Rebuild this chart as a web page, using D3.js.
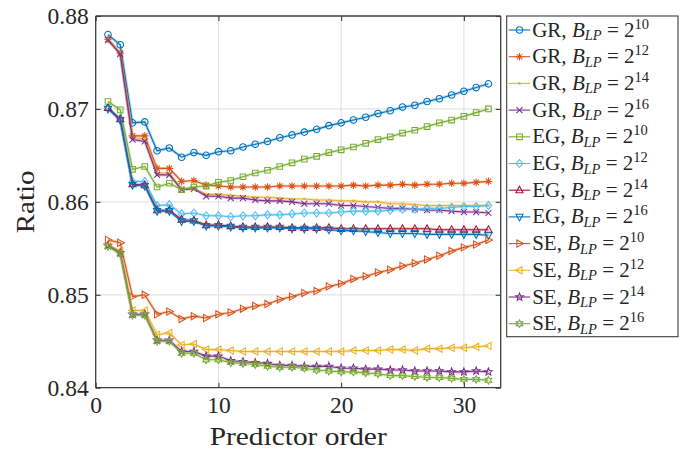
<!DOCTYPE html>
<html>
<head>
<meta charset="utf-8">
<script src="https://cdn.jsdelivr.net/npm/d3@7"></script>
<style>
  html, body { margin: 0; padding: 0; background: #fff; }
</style>
</head>
<body>
<svg id="chart" width="697" height="452"></svg>
<script>
// Predictor orders on the x axis
const order = [1,2,3,4,5,6,7,8,9,10,11,12,13,14,15,16,17,18,19,20,21,22,23,24,25,26,27,28,29,30,31,32];

// Ratio per predictor order, one array per method / block size
const gr10 = [0.8780,0.8769,0.8685,0.8686,0.8655,0.8658,0.8648,0.8653,0.8650,0.8654,0.8655,0.8659,0.8662,0.8665,0.8669,0.8672,0.8675,0.8678,0.8682,0.8685,0.8688,0.8691,0.8695,0.8698,0.8702,0.8704,0.8708,0.8711,0.8715,0.8719,0.8723,0.8727];
const gr12 = [0.8775,0.8760,0.8671,0.8671,0.8636,0.8636,0.8622,0.8623,0.8618,0.8617,0.8616,0.8616,0.8616,0.8616,0.8617,0.8617,0.8617,0.8617,0.8617,0.8617,0.8618,0.8617,0.8618,0.8618,0.8619,0.8618,0.8619,0.8619,0.8620,0.8620,0.8621,0.8622];
const gr14 = [0.8775,0.8760,0.8669,0.8668,0.8631,0.8631,0.8614,0.8615,0.8608,0.8608,0.8607,0.8606,0.8605,0.8605,0.8604,0.8603,0.8603,0.8602,0.8602,0.8601,0.8601,0.8600,0.8600,0.8598,0.8598,0.8597,0.8596,0.8596,0.8596,0.8596,0.8596,0.8596];
const gr16 = [0.8774,0.8759,0.8667,0.8665,0.8629,0.8629,0.8613,0.8614,0.8606,0.8606,0.8604,0.8604,0.8602,0.8601,0.8601,0.8600,0.8598,0.8598,0.8598,0.8596,0.8596,0.8595,0.8594,0.8593,0.8593,0.8592,0.8591,0.8591,0.8590,0.8589,0.8589,0.8588];
const eg10 = [0.8708,0.8699,0.8635,0.8638,0.8616,0.8620,0.8613,0.8616,0.8617,0.8621,0.8623,0.8627,0.8631,0.8634,0.8638,0.8642,0.8646,0.8649,0.8653,0.8656,0.8659,0.8663,0.8667,0.8670,0.8674,0.8677,0.8681,0.8685,0.8688,0.8692,0.8696,0.8700];
const eg12 = [0.8701,0.8689,0.8622,0.8622,0.8596,0.8597,0.8587,0.8588,0.8585,0.8585,0.8584,0.8585,0.8585,0.8586,0.8586,0.8587,0.8588,0.8588,0.8588,0.8589,0.8590,0.8590,0.8590,0.8591,0.8592,0.8592,0.8593,0.8593,0.8594,0.8595,0.8595,0.8596];
const eg14 = [0.8701,0.8689,0.8619,0.8618,0.8591,0.8591,0.8581,0.8580,0.8575,0.8575,0.8574,0.8573,0.8573,0.8573,0.8573,0.8572,0.8572,0.8572,0.8572,0.8571,0.8571,0.8571,0.8571,0.8571,0.8571,0.8571,0.8571,0.8570,0.8570,0.8570,0.8570,0.8570];
const eg16 = [0.8700,0.8688,0.8618,0.8617,0.8590,0.8590,0.8579,0.8579,0.8574,0.8574,0.8573,0.8572,0.8572,0.8572,0.8572,0.8571,0.8571,0.8571,0.8570,0.8569,0.8569,0.8568,0.8567,0.8566,0.8566,0.8566,0.8565,0.8565,0.8565,0.8565,0.8565,0.8564];
const se10 = [0.8559,0.8556,0.8498,0.8500,0.8479,0.8482,0.8474,0.8477,0.8475,0.8479,0.8481,0.8485,0.8488,0.8490,0.8495,0.8498,0.8502,0.8504,0.8509,0.8512,0.8517,0.8520,0.8524,0.8527,0.8531,0.8534,0.8538,0.8542,0.8547,0.8551,0.8554,0.8559];
const se12 = [0.8554,0.8547,0.8483,0.8483,0.8457,0.8459,0.8446,0.8447,0.8441,0.8441,0.8440,0.8439,0.8439,0.8439,0.8439,0.8439,0.8439,0.8439,0.8439,0.8439,0.8440,0.8440,0.8440,0.8441,0.8441,0.8440,0.8442,0.8442,0.8443,0.8443,0.8444,0.8445];
const se14 = [0.8553,0.8545,0.8479,0.8479,0.8451,0.8451,0.8439,0.8439,0.8434,0.8434,0.8429,0.8428,0.8427,0.8426,0.8424,0.8424,0.8423,0.8423,0.8423,0.8421,0.8421,0.8420,0.8420,0.8419,0.8419,0.8418,0.8418,0.8418,0.8417,0.8417,0.8418,0.8417];
const se16 = [0.8552,0.8544,0.8478,0.8478,0.8450,0.8450,0.8437,0.8437,0.8430,0.8430,0.8427,0.8426,0.8425,0.8423,0.8422,0.8422,0.8421,0.8419,0.8418,0.8417,0.8417,0.8416,0.8415,0.8413,0.8413,0.8412,0.8411,0.8411,0.8410,0.8409,0.8409,0.8408];

// Legend entries: method, exponent of B_LP
const methods   = ["GR","GR","GR","GR","EG","EG","EG","EG","SE","SE","SE","SE"];
const exponents = ["10","12","14","16","10","12","14","16","10","12","14","16"];
const seriesValues = [gr10, gr12, gr14, gr16, eg10, eg12, eg14, eg16, se10, se12, se14, se16];

// Axis ticks
const xTicks = [0, 10, 20, 30];
const yTicks = [0.84, 0.85, 0.86, 0.87, 0.88];

// Styling per series
const colors  = ["#0072BD","#D95319","#EDB120","#7E2F8E","#77AC30","#4DBEEE","#A2142F","#0072BD","#D95319","#EDB120","#7E2F8E","#77AC30"];
const markers = ["o","*",".","x","s","d","^","v",">","<","p","h"];

const FONT = "'Liberation Serif', 'Times New Roman', serif";
const TEXT_COLOR = "#262626";

const svg = d3.select("#chart");
const plot = { left: 95.7, right: 500.7, top: 16, bottom: 387.7 };

const x = d3.scaleLinear().domain([0, 33]).range([plot.left, plot.right]);
const y = d3.scaleLinear().domain([0.84, 0.88]).range([plot.bottom, plot.top]);

const axisColor = "#3d3d3d";

// grid
const grid = svg.append("g");
grid.selectAll("line.gx").data(xTicks.filter(t => t > 0)).enter().append("line")
  .attr("x1", d => x(d)).attr("x2", d => x(d))
  .attr("y1", plot.top).attr("y2", plot.bottom)
  .attr("stroke", "#e4e4e4").attr("stroke-width", 1.2);
grid.selectAll("line.gy").data(yTicks.filter(t => t > 0.84 && t < 0.88)).enter().append("line")
  .attr("x1", plot.left).attr("x2", plot.right)
  .attr("y1", d => y(d)).attr("y2", d => y(d))
  .attr("stroke", "#e4e4e4").attr("stroke-width", 1.2);

// marker shape paths, centred on 0,0
function markerPath(m) {
  const p = d3.path();
  switch (m) {
    case "o": p.arc(0, 0, 3.3, 0, 2 * Math.PI); break;
    case "*": {
      const a = 3.8, b = 2.7;
      p.moveTo(-a, 0); p.lineTo(a, 0);
      p.moveTo(0, -a); p.lineTo(0, a);
      p.moveTo(-b, -b); p.lineTo(b, b);
      p.moveTo(-b, b); p.lineTo(b, -b);
      break;
    }
    case "x": {
      const b = 3;
      p.moveTo(-b, -b); p.lineTo(b, b);
      p.moveTo(-b, b); p.lineTo(b, -b);
      break;
    }
    case "s": p.rect(-2.8, -2.8, 5.6, 5.6); break;
    case "d": p.moveTo(0, -4); p.lineTo(3.2, 0); p.lineTo(0, 4); p.lineTo(-3.2, 0); p.closePath(); break;
    case "^": p.moveTo(0, -4); p.lineTo(3.6, 2.6); p.lineTo(-3.6, 2.6); p.closePath(); break;
    case "v": p.moveTo(0, 4); p.lineTo(3.6, -2.6); p.lineTo(-3.6, -2.6); p.closePath(); break;
    case ">": p.moveTo(4, 0); p.lineTo(-2.6, 3.6); p.lineTo(-2.6, -3.6); p.closePath(); break;
    case "<": p.moveTo(-4, 0); p.lineTo(2.6, 3.6); p.lineTo(2.6, -3.6); p.closePath(); break;
    case "p": case "h": {
      const n = m === "p" ? 5 : 6;
      const outer = m === "p" ? 4 : 3.8, inner = m === "p" ? 1.7 : 2.1;
      for (let i = 0; i < 2 * n; i++) {
        const ang = -Math.PI / 2 + i * Math.PI / n;
        const rr = i % 2 === 0 ? outer : inner;
        const px = rr * Math.cos(ang), py = rr * Math.sin(ang);
        if (i === 0) p.moveTo(px, py); else p.lineTo(px, py);
      }
      p.closePath();
      break;
    }
    default: p.arc(0, 0, 3.3, 0, 2 * Math.PI);
  }
  return p.toString();
}

function drawMarker(g, m, color) {
  if (m === ".") {
    g.append("circle").attr("r", 1.3).attr("fill", color);
  } else {
    g.append("path").attr("d", markerPath(m))
      .attr("fill", "none").attr("stroke", color).attr("stroke-width", 1.05)
      .attr("stroke-linejoin", "miter");
  }
}

const line = d3.line().x((d, i) => x(order[i])).y(d => y(d));

// series
const series = svg.append("g");
seriesValues.forEach((vals, k) => {
  const g = series.append("g");
  g.append("path").attr("d", line(vals))
    .attr("fill", "none").attr("stroke", colors[k]).attr("stroke-opacity", 0.25)
    .attr("stroke-width", 3);
  g.append("path").attr("d", line(vals))
    .attr("fill", "none").attr("stroke", colors[k]).attr("stroke-width", 1.1);
  vals.forEach((v, i) => {
    const mg = g.append("g").attr("transform", `translate(${x(order[i])},${y(v)})`);
    drawMarker(mg, markers[k], colors[k]);
  });
});

// axes box with inward ticks
const axes = svg.append("g");
const xAxisB = d3.axisBottom(x).tickValues(xTicks).tickSize(-5).tickPadding(9).tickFormat(d3.format("d"));
const xAxisT = d3.axisTop(x).tickValues(xTicks).tickSize(-5).tickFormat("");
const yAxisL = d3.axisLeft(y).tickValues(yTicks).tickSize(-5).tickPadding(7).tickFormat(d3.format(".2f"));
const yAxisR = d3.axisRight(y).tickValues(yTicks).tickSize(-5).tickFormat("");

function styleAxis(sel) {
  sel.attr("font-family", null).attr("font-size", null);
  sel.select(".domain").attr("stroke", axisColor).attr("stroke-width", 1.3);
  sel.selectAll(".tick line").attr("stroke", axisColor).attr("stroke-width", 1.1);
  sel.selectAll(".tick text")
    .style("font-family", FONT).style("font-size", "23.5px").style("fill", TEXT_COLOR);
}
axes.append("g").attr("transform", `translate(0,${plot.bottom})`).call(xAxisB).call(styleAxis)
  .select(".domain").attr("d", `M${plot.left},0H${plot.right}`);
axes.append("g").attr("transform", `translate(0,${plot.top})`).call(xAxisT).call(styleAxis)
  .select(".domain").attr("d", `M${plot.left},0H${plot.right}`);
axes.append("g").attr("transform", `translate(${plot.left},0)`).call(yAxisL).call(styleAxis)
  .select(".domain").attr("d", `M0,${plot.top}V${plot.bottom}`);
axes.append("g").attr("transform", `translate(${plot.right},0)`).call(yAxisR).call(styleAxis)
  .select(".domain").attr("d", `M0,${plot.top}V${plot.bottom}`);

// axis titles
svg.append("text")
  .attr("x", (plot.left + plot.right) / 2).attr("y", 445)
  .attr("text-anchor", "middle")
  .style("font-family", FONT).style("font-size", "25px").style("fill", TEXT_COLOR)
  .attr("textLength", 177).attr("lengthAdjust", "spacingAndGlyphs")
  .text("Predictor order");
svg.append("text")
  .attr("transform", `translate(34,${(plot.top + plot.bottom) / 2}) rotate(-90)`)
  .attr("text-anchor", "middle")
  .style("font-family", FONT).style("font-size", "25px").style("fill", TEXT_COLOR)
  .attr("textLength", 63).attr("lengthAdjust", "spacingAndGlyphs")
  .text("Ratio");

// legend
const lg = { left: 506.7, top: 16, width: 171.3, height: 320.7, rowH: 26.7, first: 30 };
const legend = svg.append("g");
legend.append("rect")
  .attr("x", lg.left).attr("y", lg.top).attr("width", lg.width).attr("height", lg.height)
  .attr("fill", "#fff").attr("stroke", axisColor).attr("stroke-width", 1.1);

methods.forEach((mth, k) => {
  const cy = lg.first + k * lg.rowH;
  const row = legend.append("g");
  row.append("line").attr("x1", lg.left + 2).attr("x2", lg.left + 23.5)
    .attr("y1", cy).attr("y2", cy).attr("stroke", colors[k]).attr("stroke-width", 1.1);
  const mg = row.append("g").attr("transform", `translate(${lg.left + 12.8},${cy})`);
  drawMarker(mg, markers[k], colors[k]);

  const t = row.append("text").attr("x", lg.left + 25.5).attr("y", cy + 6.5)
    .style("font-family", FONT).style("font-size", "21px").style("fill", TEXT_COLOR);
  t.append("tspan").text(mth + ", ");
  t.append("tspan").style("font-style", "italic").text("B");
  t.append("tspan").style("font-style", "italic").style("font-size", "14.5px").attr("dy", 3.5).text("LP");
  t.append("tspan").attr("dy", -3.5).text(" = 2");
  t.append("tspan").style("font-size", "14.5px").attr("dy", -8).text(exponents[k]);
});
</script>
</body>
</html>
